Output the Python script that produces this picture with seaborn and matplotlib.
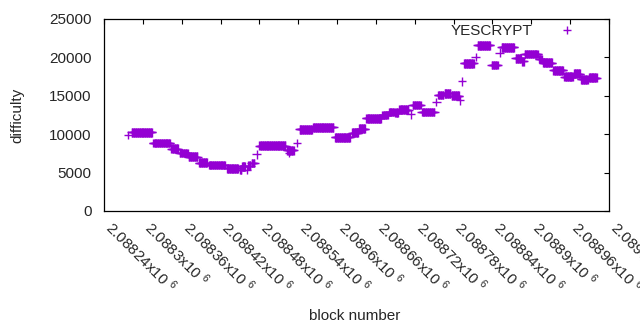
import numpy as np
import pandas as pd
import matplotlib
matplotlib.use("Agg")
import matplotlib.pyplot as plt
import seaborn as sns

seg_start = [2088277, 2088283, 2088316, 2088344, 2088357, 2088371, 2088387, 2088402,
             2088430, 2088450, 2088453, 2088461, 2088463, 2088468, 2088476, 2088480,
             2088523, 2088526, 2088538, 2088542, 2088563, 2088597, 2088623, 2088634,
             2088645, 2088670, 2088680, 2088690, 2088696, 2088714, 2088717, 2088731,
             2088753, 2088756, 2088766, 2088777, 2088790, 2088793, 2088796, 2088814,
             2088817, 2088839, 2088851, 2088854, 2088876, 2088886, 2088890, 2088912,
             2088918, 2088934, 2088951, 2088966, 2088977, 2088989]
seg_end = [2088277, 2088314, 2088342, 2088354, 2088369, 2088384, 2088399, 2088427,
           2088447, 2088452, 2088458, 2088461, 2088466, 2088472, 2088476, 2088520,
           2088533, 2088526, 2088538, 2088561, 2088594, 2088620, 2088632, 2088643,
           2088668, 2088678, 2088688, 2088694, 2088710, 2088714, 2088729, 2088750,
           2088753, 2088764, 2088775, 2088788, 2088790, 2088793, 2088811, 2088814,
           2088836, 2088848, 2088851, 2088873, 2088884, 2088888, 2088910, 2088916,
           2088932, 2088949, 2088964, 2088975, 2088987, 2089001]
seg_difficulty = [9900, 10250, 8850, 8100, 7550, 7050, 6300, 6000,
                  5550, 5400, 5800, 5350, 5900, 6250, 7400, 8500,
                  7900, 7550, 8850, 10650, 10900, 9600, 10200, 10700,
                  12050, 12500, 12900, 12800, 13200, 12600, 13800, 12900,
                  14200, 15100, 15300, 15000, 14400, 16900, 19250, 20050,
                  21550, 19000, 20600, 21300, 19900, 19500, 20450, 19800,
                  19300, 18300, 17500, 17900, 17150, 17350]

x_ticks = [2088240 + 60 * i for i in range(14)]
x_tick_labels = ["2.08824", "2.0883", "2.08836", "2.08842", "2.08848", "2.08854",
                 "2.0886", "2.08866", "2.08872", "2.08878", "2.08884", "2.0889",
                 "2.08896", "2.08902"]
y_ticks = [0, 5000, 10000, 15000, 20000, 25000]

blocks, diffs = [], []
for s, e, d in zip(seg_start, seg_end, seg_difficulty):
    for b in range(s, e + 1):
        blocks.append(b)
        diffs.append(d)
df = pd.DataFrame({"block number": blocks, "difficulty": diffs, "series": "YESCRYPT"})

sns.set_style("white")
plt.rcParams["font.family"] = ["Liberation Sans", "DejaVu Sans"]
plt.rcParams["mathtext.fontset"] = "custom"
plt.rcParams["mathtext.rm"] = "Liberation Sans"
plt.rcParams["mathtext.it"] = "Liberation Sans"

fig = plt.figure(figsize=(6.4, 3.3), dpi=100)
ax = fig.add_axes([104 / 640, 1 - 211 / 330, 505 / 640, 192 / 330])

sns.scatterplot(data=df, x="block number", y="difficulty", hue="series",
                palette=["#9400D3"], marker="+", s=40, linewidth=1.0, ax=ax)

ax.set_xlim(2088240, 2089020)
ax.set_ylim(0, 25000)
ax.set_xticks(x_ticks)
ax.set_xticklabels([t + r"x10 $^{6}$" for t in x_tick_labels], rotation=-45,
                   ha="left", va="baseline", rotation_mode="anchor", fontsize=11)
ax.set_yticks(y_ticks)
ax.set_yticklabels([str(v) for v in y_ticks], fontsize=11)

ax.tick_params(axis="both", direction="in", length=3.5, width=0.8, color="black",
               top=True, right=True, labeltop=False, labelright=False)
ax.tick_params(axis="y", pad=9)
ax.tick_params(axis="x", pad=13)
for sp in ax.spines.values():
    sp.set_visible(True)
    sp.set_color("black")
    sp.set_linewidth(0.9)

ax.set_xlabel("block number", fontsize=11, va="center")
ax.set_ylabel("difficulty", fontsize=11, va="center")
ax.xaxis.set_label_coords((355 - 104) / 505, (211 - 316) / 192)
ax.yaxis.set_label_coords((17 - 104) / 505, 0.5)

leg = ax.legend(loc="upper right", bbox_to_anchor=((590 - 104) / 505, (211 - 24) / 192),
                markerfirst=False, frameon=False, fontsize=11, borderpad=0,
                borderaxespad=0, handlelength=3, handletextpad=0.8, title=None)

fig.savefig("out.png", dpi=100)
